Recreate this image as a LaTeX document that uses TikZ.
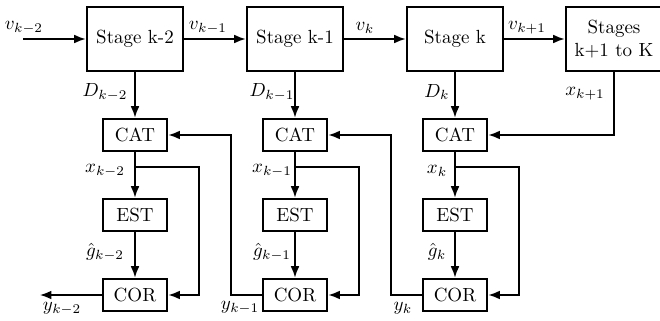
\documentclass[tikz,border=0pt]{standalone}
\usetikzlibrary{arrows.meta,calc}
\begin{document}
\begin{tikzpicture}[x=0.526pt,y=-0.526pt,
  stagebox/.style={draw,line width=1.5pt,minimum width=50.5pt,minimum height=33.7pt,inner sep=0pt,align=center},
  smallbox/.style={draw,line width=1.5pt,minimum width=33.7pt,minimum height=16.8pt,inner sep=0pt},
  conn/.style={line width=0.75pt},
  arr/.style={conn,-{Latex[length=6pt,width=4.6pt]}},
  lbl/.style={inner sep=0pt}]
\useasboundingbox (0,0) rectangle (660,320);
% stage boxes
\node[stagebox] (s1) at (135,39) {Stage k-2};
\node[stagebox] (s2) at (295,39) {Stage k-1};
\node[stagebox] (s3) at (455,39) {Stage k};
\node[stagebox] (s4) at (614,39) {Stages\\k+1 to K};
% lower blocks
\foreach \i/\x in {1/135,2/295,3/455}{
  \node[smallbox] (cat\i) at (\x,135) {CAT};
  \node[smallbox] (est\i) at (\x,215) {EST};
  \node[smallbox] (cor\i) at (\x,295) {COR};
  \coordinate (j\i) at (\x,167);
  \coordinate (r\i) at (\x+64,167);
  \draw[arr] (s\i) -- (cat\i);
  \draw[arr] (cat\i) -- (est\i);
  \draw[arr] (est\i) -- (cor\i);
  \draw[arr] (j\i) -- (r\i) |- (cor\i.east);
}
% chain
\coordinate (in) at (23,39);
\coordinate (out) at (40,295);
\draw[arr] (in) -- (s1.west);
\draw[arr] (s1) -- (s2);
\draw[arr] (s2) -- (s3);
\draw[arr] (s3) -- (s4);
\draw[arr] (cor1.west) -- (out);
% feedback
\coordinate (f1) at (231,135);
\coordinate (f2) at (391,135);
\draw[arr] (cor2.west) -| (f1) -- (cat1.east);
\draw[arr] (cor3.west) -| (f2) -- (cat2.east);
\draw[arr] (s4.south) |- (cat3.east);
% labels
\node[lbl] (lv1) at (24,28) {$v_{k-2}$};
\node[lbl] (lv2) at (208,28) {$v_{k-1}$};
\node[lbl] (lv3) at (365,28) {$v_{k}$};
\node[lbl] (lv4) at (527,28) {$v_{k+1}$};
\node[lbl] (ld1) at (105,92) {$D_{k-2}$};
\node[lbl] (ld2) at (272,92) {$D_{k-1}$};
\node[lbl] (ld3) at (437,92) {$D_{k}$};
\node[lbl] (lx4) at (585,94) {$x_{k+1}$};
\node[lbl] (lx1) at (105,171) {$x_{k-2}$};
\node[lbl] (lx2) at (272,171) {$x_{k-1}$};
\node[lbl] (lx3) at (437,171) {$x_{k}$};
\node[lbl] (lg1) at (105,252) {$\hat{g}_{k-2}$};
\node[lbl] (lg2) at (272,252) {$\hat{g}_{k-1}$};
\node[lbl] (lg3) at (437,252) {$\hat{g}_{k}$};
\node[lbl] (ly1) at (62,309) {$y_{k-2}$};
\node[lbl] (ly2) at (240,308) {$y_{k-1}$};
\node[lbl] (ly3) at (403,308) {$y_{k}$};
\end{tikzpicture}
\end{document}
